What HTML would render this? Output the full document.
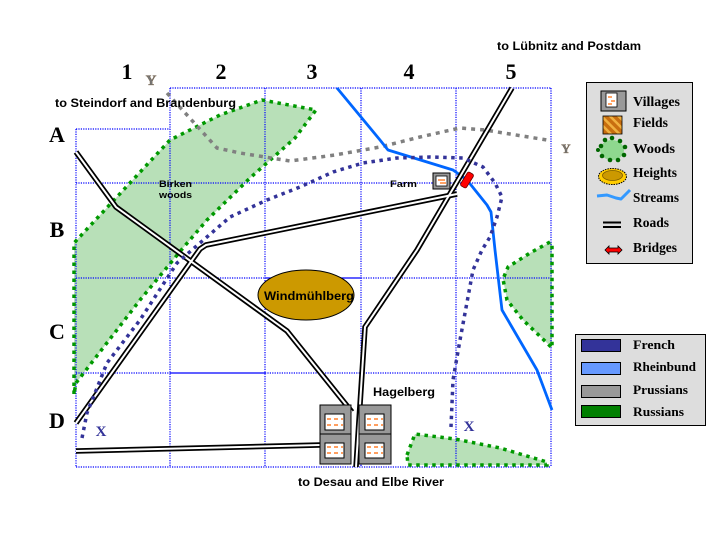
<!DOCTYPE html>
<html><head><meta charset="utf-8"><style>
html,body{margin:0;padding:0;background:#fff;}
svg{display:block;}
.sans{font-family:"Liberation Sans",Arial,sans-serif;font-weight:bold;}
.serif{font-family:"Liberation Serif","Times New Roman",serif;font-weight:bold;}
</style></head><body>
<svg width="720" height="540" viewBox="0 0 720 540" xmlns="http://www.w3.org/2000/svg">
<defs>
<pattern id="hatch" width="6" height="6" patternUnits="userSpaceOnUse" patternTransform="rotate(-45)">
<rect width="6" height="6" fill="#C86E10"/><rect width="2.5" height="6" fill="#F0B040"/>
</pattern>
</defs>
<rect width="720" height="540" fill="#fff"/>

<!-- woods fills -->
<polygon points="74,394 74,243 170,140 220,115 262,100 316,110 295,138 250,178 207,220 183,248 140,300 76,383" fill="#B8E0B8"/>
<polygon points="550,242 530,253 508,267 503,279 507,300 523,320 547,343 552,348 552,242" fill="#B8E0B8"/>
<polygon points="407,455 415,434 455,439 500,448 547,462 547,465 408,465" fill="#B8E0B8"/>

<!-- grid -->
<g stroke="#0000FF" stroke-width="1.2" fill="none" stroke-dasharray="1.2 1.2">
<line x1="170" y1="88" x2="551" y2="88"/>
<line x1="76" y1="129" x2="170" y2="129"/>
<line x1="76" y1="183" x2="551" y2="183"/>
<line x1="76" y1="278" x2="265" y2="278"/>
<line x1="361" y1="278" x2="551" y2="278"/>
<line x1="76" y1="373" x2="170" y2="373"/>
<line x1="265" y1="373" x2="551" y2="373"/>
<line x1="76" y1="467" x2="551" y2="467"/>
<line x1="76" y1="129" x2="76" y2="467"/>
<line x1="170" y1="88" x2="170" y2="467"/>
<line x1="265" y1="88" x2="265" y2="467"/>
<line x1="361" y1="88" x2="361" y2="467"/>
<line x1="456" y1="88" x2="456" y2="467"/>
<line x1="551" y1="88" x2="551" y2="467"/>
</g>
<g stroke="#0000FF" stroke-width="1.2">
<line x1="265" y1="278" x2="361" y2="278"/>
<line x1="170" y1="373" x2="265" y2="373"/>
</g>

<!-- woods borders -->
<g fill="none" stroke="#009900" stroke-width="3.5" stroke-dasharray="3.5 4.5">
<polygon points="74,394 74,243 170,140 220,115 262,100 316,110 295,138 250,178 207,220 183,248 140,300 76,383"/>
<polyline points="550,242 530,253 508,267 503,279 507,300 523,320 547,343 552,348 552,242"/>
<polygon points="407,455 415,434 455,439 500,448 547,462 547,465 408,465"/>
</g>

<!-- gray prussian line -->
<polyline points="167,93 217,148 240,153 290,161 335,155 380,147 420,137 460,128 485,130 547,140" fill="none" stroke="#808080" stroke-width="3.5" stroke-dasharray="4 5"/>

<!-- stream -->
<polyline points="337,88 380,140 388,150 453,170 467,180 487,205 491,212 495,250 502,310 537,370 552,410" fill="none" stroke="#0066FF" stroke-width="2.8" stroke-linejoin="round"/>

<!-- roads -->
<g fill="none" stroke-linejoin="miter">
<g stroke="#000" stroke-width="5.5">
<polyline points="76,152 116,207 287,331 352,412"/>
<polyline points="76,423 200,249 206,245 457,194"/>
<polyline points="512,88 417,250 365,327 356,467"/>
<polyline points="76,451 320,445"/>
</g>
<g stroke="#fff" stroke-width="2">
<polyline points="76,152 116,207 287,331 352,412"/>
<polyline points="76,423 200,249 206,245 457,194"/>
<polyline points="512,88 417,250 365,327 356,467"/>
<polyline points="76,451 320,445"/>
</g>
</g>

<!-- french line -->
<polyline points="82,438 87,413 107,363 140,320 177,263 200,243 230,217 267,200 300,187 333,172 363,163 397,158 430,157 463,158 483,167 495,183 502,197 497,217 490,237 482,250 473,270 468,297 460,340 453,380 451,427" fill="none" stroke="#333399" stroke-width="3.5" stroke-dasharray="3.5 4.5"/>

<!-- heights -->
<ellipse cx="306" cy="295" rx="48" ry="25" fill="#CC9900" stroke="#000" stroke-width="1"/>

<!-- villages -->
<g stroke="#000" stroke-width="1">
<rect x="320" y="405" width="31" height="29" fill="#999"/>
<rect x="320" y="434" width="31" height="30" fill="#999"/>
<rect x="359" y="405" width="32" height="29" fill="#999"/>
<rect x="359" y="434" width="32" height="30" fill="#999"/>
<rect x="325" y="414" width="19" height="16" fill="#fff"/>
<rect x="365" y="414" width="19" height="16" fill="#fff"/>
<rect x="325" y="443" width="19" height="15" fill="#fff"/>
<rect x="365" y="443" width="19" height="15" fill="#fff"/>
</g>
<g stroke="#FF6600" stroke-width="1.2" stroke-dasharray="4 3">
<line x1="327" y1="419" x2="343" y2="419"/><line x1="327" y1="425" x2="343" y2="425"/>
<line x1="367" y1="419" x2="383" y2="419"/><line x1="367" y1="425" x2="383" y2="425"/>
<line x1="327" y1="447" x2="343" y2="447"/><line x1="327" y1="453" x2="343" y2="453"/>
<line x1="367" y1="447" x2="383" y2="447"/><line x1="367" y1="453" x2="383" y2="453"/>
</g>

<!-- farm -->
<rect x="433" y="173" width="17" height="16" fill="#999" stroke="#000" stroke-width="1"/>
<rect x="436" y="176" width="11" height="10" fill="#fff" stroke="#000" stroke-width="0.8"/>
<g stroke="#FF6600" stroke-width="1.2"><line x1="438" y1="180" x2="445" y2="180"/><line x1="440" y1="183" x2="446" y2="183"/></g>

<!-- bridge -->
<g transform="translate(467,180) rotate(-58)">
<rect x="-8" y="-3.5" width="16" height="7" rx="2" fill="#FF0000" stroke="#600" stroke-width="0.8"/>
</g>

<!-- marks -->
<text x="101" y="436" text-anchor="middle" class="serif" font-size="15" fill="#333399">X</text>
<text x="469" y="431" text-anchor="middle" class="serif" font-size="15" fill="#333399">X</text>
<text x="151" y="85" text-anchor="middle" class="serif" font-size="15" fill="#777" stroke="#6a5030" stroke-width="0.3">Y</text>
<text x="566" y="153" text-anchor="middle" class="serif" font-size="13" fill="#777" stroke="#6a5030" stroke-width="0.3">Y</text>

<!-- column / row labels -->
<g class="serif" font-size="22" fill="#000" text-anchor="middle">
<text x="127" y="79">1</text>
<text x="221" y="79">2</text>
<text x="312" y="79">3</text>
<text x="409" y="79">4</text>
<text x="511" y="79">5</text>
<text x="57" y="142">A</text>
<text x="57" y="237">B</text>
<text x="57" y="339">C</text>
<text x="57" y="428">D</text>
</g>

<!-- map text -->
<g class="sans" fill="#000">
<text x="55" y="107" font-size="12" textLength="181" lengthAdjust="spacingAndGlyphs">to Steindorf and Brandenburg</text>
<text x="497" y="50" font-size="12" textLength="144" lengthAdjust="spacingAndGlyphs">to Lübnitz and Postdam</text>
<text x="298" y="486" font-size="12" textLength="146" lengthAdjust="spacingAndGlyphs">to Desau and Elbe River</text>
<text x="373" y="396" font-size="12" textLength="62" lengthAdjust="spacingAndGlyphs">Hagelberg</text>
<text x="264" y="300" font-size="12" textLength="90" lengthAdjust="spacingAndGlyphs">Windmühlberg</text>
<text x="159" y="187" font-size="9.5" textLength="33" lengthAdjust="spacingAndGlyphs">Birken</text>
<text x="159" y="198" font-size="9.5" textLength="33" lengthAdjust="spacingAndGlyphs">woods</text>
<text x="390" y="187" font-size="9" textLength="27" lengthAdjust="spacingAndGlyphs">Farm</text>
</g>

<!-- legend 1 -->
<rect x="586.5" y="82.5" width="106" height="181" fill="#DDDDDD" stroke="#000" stroke-width="1"/>
<rect x="601" y="91" width="25" height="20" fill="#999" stroke="#000" stroke-width="1"/>
<rect x="606" y="93" width="11" height="14" fill="#fff" stroke="#000" stroke-width="0.8"/>
<g stroke="#FF6600" stroke-width="1.2"><line x1="608" y1="97" x2="612" y2="97"/><line x1="611" y1="101" x2="615" y2="101"/><line x1="608" y1="104" x2="612" y2="104"/></g>
<rect x="603" y="116" width="19" height="18" fill="url(#hatch)" stroke="#000" stroke-width="0.8"/>
<ellipse cx="612" cy="150" rx="12" ry="10" fill="#8FD88F"/>
<g fill="#006600">
<circle cx="601" cy="146" r="2.3"/><circle cx="605" cy="140" r="2.3"/><circle cx="612" cy="138" r="2.3"/><circle cx="620" cy="141" r="2.3"/><circle cx="625" cy="147" r="2.3"/><circle cx="624" cy="155" r="2.3"/><circle cx="618" cy="160" r="2.3"/><circle cx="610" cy="160" r="2.3"/><circle cx="602" cy="156" r="2.3"/><circle cx="598" cy="150" r="2"/>
</g>
<ellipse cx="612.5" cy="176.5" rx="14" ry="8" fill="#FFCC00" stroke="#000" stroke-width="1" stroke-dasharray="1.5 1"/>
<ellipse cx="612.5" cy="175.5" rx="10" ry="5" fill="#CC9900" stroke="#7a5a00" stroke-width="0.8"/>
<polyline points="597,196 607,195 616,198 621,199 630,190" fill="none" stroke="#3399FF" stroke-width="3" stroke-linejoin="round"/>
<g stroke="#000" stroke-width="2"><line x1="603" y1="222.5" x2="621" y2="222.5"/><line x1="603" y1="227" x2="621" y2="227"/></g>
<polygon points="605,250 609,246 609,248 618,248 618,246 622,250 618,254 618,252 609,252 609,254" fill="#FF0000" stroke="#000" stroke-width="0.8"/>
<g class="serif" font-size="13.5" fill="#000">
<text x="633" y="106" textLength="47" lengthAdjust="spacingAndGlyphs">Villages</text>
<text x="633" y="127" textLength="35" lengthAdjust="spacingAndGlyphs">Fields</text>
<text x="633" y="153" textLength="42" lengthAdjust="spacingAndGlyphs">Woods</text>
<text x="633" y="177" textLength="44" lengthAdjust="spacingAndGlyphs">Heights</text>
<text x="633" y="202" textLength="46" lengthAdjust="spacingAndGlyphs">Streams</text>
<text x="633" y="227" textLength="36" lengthAdjust="spacingAndGlyphs">Roads</text>
<text x="633" y="252" textLength="44" lengthAdjust="spacingAndGlyphs">Bridges</text>
</g>

<!-- legend 2 -->
<rect x="575.5" y="334.5" width="130" height="91" fill="#DDDDDD" stroke="#000" stroke-width="1"/>
<g stroke="#000" stroke-width="1">
<rect x="581.5" y="339.5" width="39" height="12" fill="#333399"/>
<rect x="581.5" y="362.5" width="39" height="12" fill="#6699FF"/>
<rect x="581.5" y="385.5" width="39" height="12" fill="#999999"/>
<rect x="581.5" y="405.5" width="39" height="12" fill="#008000"/>
</g>
<g class="serif" font-size="13" fill="#000">
<text x="633" y="349" textLength="42" lengthAdjust="spacingAndGlyphs">French</text>
<text x="633" y="371" textLength="63" lengthAdjust="spacingAndGlyphs">Rheinbund</text>
<text x="633" y="394" textLength="55" lengthAdjust="spacingAndGlyphs">Prussians</text>
<text x="633" y="416" textLength="51" lengthAdjust="spacingAndGlyphs">Russians</text>
</g>
</svg>
</body></html>
